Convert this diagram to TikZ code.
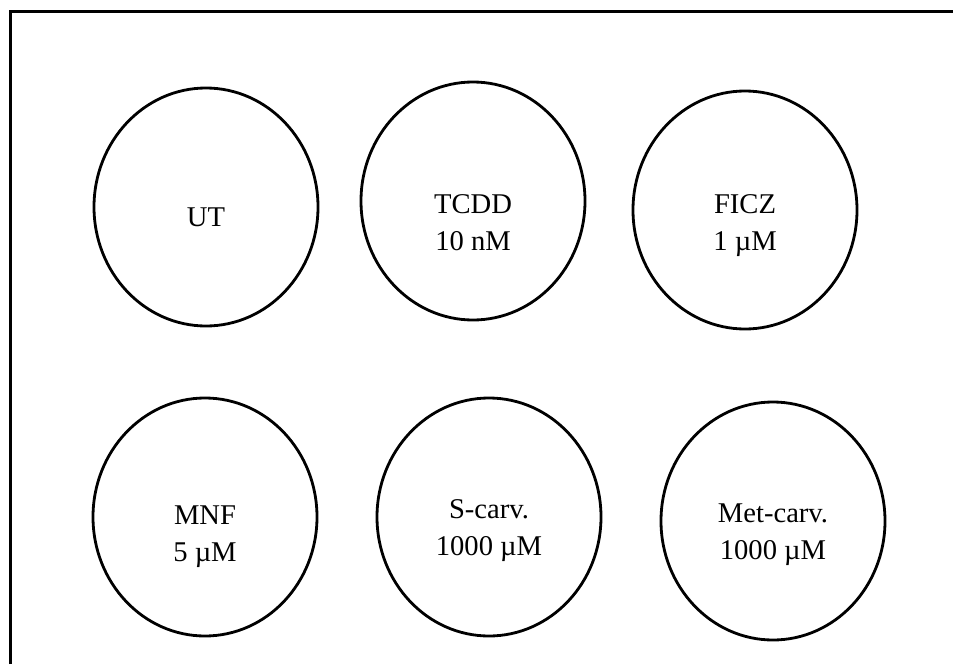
\documentclass[tikz,border=0pt]{standalone}
\usepackage{fontspec}
\setmainfont{Liberation Serif}
\usepackage{tikz}
\usetikzlibrary{shapes.geometric, positioning}

\begin{document}
\begin{tikzpicture}[x=0.5pt,y=-0.5pt,
  well/.style={draw,ellipse,line width=1.4pt,minimum width=112pt,minimum height=119pt,inner sep=0pt},
  dose/.style={align=center,font=\fontsize{14.3}{18.5}\selectfont,inner sep=0pt}]
  \useasboundingbox (0,0) rectangle (953,664);
  \coordinate (frameA) at (10,664);
  \coordinate (frameB) at (10,11);
  \coordinate (frameC) at (953,11);
  \draw[line width=1.5pt] (frameA) -- (frameB) -- (frameC);
  \foreach \nm/\x/\y/\dy/\txt in {ut/206/207/5/UT, tcdd/473/201/11/TCDD\\10 nM, ficz/745/210/8/FICZ\\1 µM,
      mnf/205/517/10/MNF\\5 µM, scarv/489/517/7/S-carv.\\1000 µM, metcarv/773/521/7/Met-carv.\\1000 µM}
    {\node[well] (\nm) at (\x,\y) {};
     \node[dose] (\nm-txt) at ([yshift=-\dy pt]\nm.center) {\txt};}
\end{tikzpicture}
\end{document}
